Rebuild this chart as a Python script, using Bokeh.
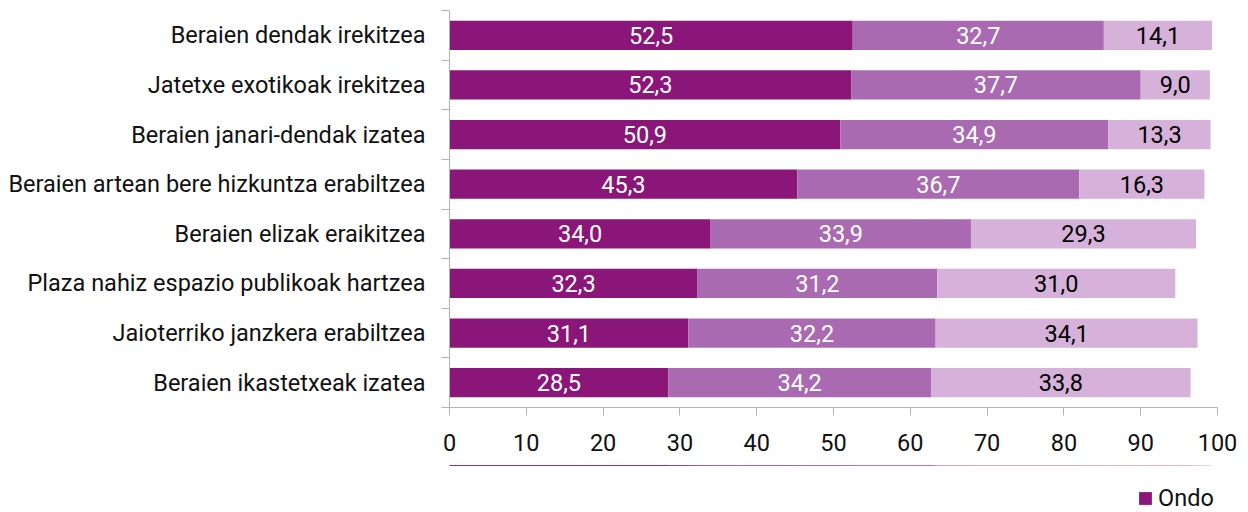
from bokeh.plotting import figure
from bokeh.layouts import column
from bokeh.models import (ColumnDataSource, Range1d, LinearAxis,
                          FixedTicker, Legend, LegendItem)
from bokeh.core.properties import value
from bokeh.embed import file_html
from bokeh.resources import INLINE

categories = [
    "Beraien dendak irekitzea",
    "Jatetxe exotikoak irekitzea",
    "Beraien janari-dendak izatea",
    "Beraien artean bere hizkuntza erabiltzea",
    "Beraien elizak eraikitzea",
    "Plaza nahiz espazio publikoak hartzea",
    "Jaioterriko janzkera erabiltzea",
    "Beraien ikastetxeak izatea",
]
ondo = [52.5, 52.3, 50.9, 45.3, 34.0, 32.3, 31.1, 28.5]
berdin = [32.7, 37.7, 34.9, 36.7, 33.9, 31.2, 32.2, 34.2]
gaizki = [14.1, 9.0, 13.3, 16.3, 29.3, 31.0, 34.1, 33.8]
series_names = ["Ondo", "Berdin", "Gaizki"]
colors = ["#8a1679", "#aa6ab2", "#d6b2da"]
x_ticks = [0, 10, 20, 30, 40, 50, 60, 70, 80, 90, 100]

FONT = "Roboto"
FS = "23.5px"

def fmt(v):
    return f"{v:.1f}".replace(".", ",")

n = len(categories)
ypos = [n - i - 0.5 for i in range(n)]  # first category on top

src = ColumnDataSource(dict(
    y=ypos,
    ondo=ondo, berdin=berdin, gaizki=gaizki,
    ondo_mid=[a / 2 for a in ondo],
    berdin_mid=[a + b / 2 for a, b in zip(ondo, berdin)],
    gaizki_mid=[a + b + c / 2 for a, b, c in zip(ondo, berdin, gaizki)],
    ondo_lbl=[fmt(v) for v in ondo],
    berdin_lbl=[fmt(v) for v in berdin],
    gaizki_lbl=[fmt(v) for v in gaizki],
))

p = figure(width=1240, height=465, output_backend="svg", toolbar_location=None,
           y_range=Range1d(0, n), x_range=Range1d(0, 100),
           x_axis_location=None, y_axis_location=None,
           min_border_left=449, min_border_right=23, min_border_top=10, min_border_bottom=58)
p.outline_line_color = None
p.grid.visible = False

p.hbar_stack(["ondo", "berdin", "gaizki"], y="y", height=0.59,
             color=colors, line_color=None, source=src)

for xcol, lcol, tcol in [("ondo_mid", "ondo_lbl", "white"),
                         ("berdin_mid", "berdin_lbl", "white"),
                         ("gaizki_mid", "gaizki_lbl", "black")]:
    p.text(x=xcol, y="y", text=lcol, source=src, text_align="center",
           text_baseline="middle", text_color=tcol, text_font=value(FONT),
           text_font_size=FS)

axis_color = "#b3b3b3"

# x axis
xaxis = LinearAxis(ticker=FixedTicker(ticks=x_ticks))
xaxis.axis_line_color = axis_color
xaxis.major_tick_line_color = axis_color
xaxis.major_tick_out = 8
xaxis.major_tick_in = 0
xaxis.minor_tick_line_color = None
xaxis.major_label_text_font = FONT
xaxis.major_label_text_font_size = FS
xaxis.major_label_text_color = "#111111"
xaxis.major_label_standoff = 18
p.add_layout(xaxis, "below")

# boundary ticks axis (closest to frame)
num_axis = LinearAxis(ticker=FixedTicker(ticks=list(range(n + 1))))
num_axis.major_label_overrides = {i: "" for i in range(n + 1)}
num_axis.axis_line_color = axis_color
num_axis.major_tick_line_color = axis_color
num_axis.major_tick_out = 8
num_axis.major_tick_in = 0
num_axis.minor_tick_line_color = None
num_axis.major_label_standoff = 0
p.add_layout(num_axis, "left")

# category label axis
cat_axis = LinearAxis(ticker=FixedTicker(ticks=ypos))
cat_axis.major_label_overrides = {y: c for y, c in zip(ypos, categories)}
cat_axis.axis_line_color = None
cat_axis.major_tick_line_color = None
cat_axis.minor_tick_line_color = None
cat_axis.major_label_text_font = FONT
cat_axis.major_label_text_font_size = FS
cat_axis.major_label_text_color = "#111111"
cat_axis.major_label_standoff = 10
p.add_layout(cat_axis, "left")

# legend strip: a second small figure whose frame covers it entirely
p2 = figure(width=1240, height=47, output_backend="svg", toolbar_location=None,
            x_range=Range1d(0, 100), y_range=Range1d(-20, -19),
            x_axis_location=None, y_axis_location=None, min_border=0)
p2.outline_line_color = None
p2.grid.visible = False
legend_renderers = p2.hbar_stack(["ondo", "berdin", "gaizki"], y="y", height=0.59,
                                 color=colors, line_color=None, source=src)

legend = Legend(items=[LegendItem(label=s, renderers=[r])
                       for s, r in zip(series_names, legend_renderers)],
                orientation="horizontal", location=(688, 0))
legend.glyph_width = 16
legend.glyph_height = 16
legend.label_height = 16
legend.label_standoff = 5
legend.spacing = 79
legend.padding = 0
legend.margin = 0
legend.border_line_color = None
legend.background_fill_alpha = 0
legend.label_text_font = FONT
legend.label_text_font_size = FS
legend.label_text_color = "#111111"
p2.add_layout(legend, "center")

layout = column(p, p2, spacing=0)
open("out.html", "w").write(file_html(layout, INLINE))
